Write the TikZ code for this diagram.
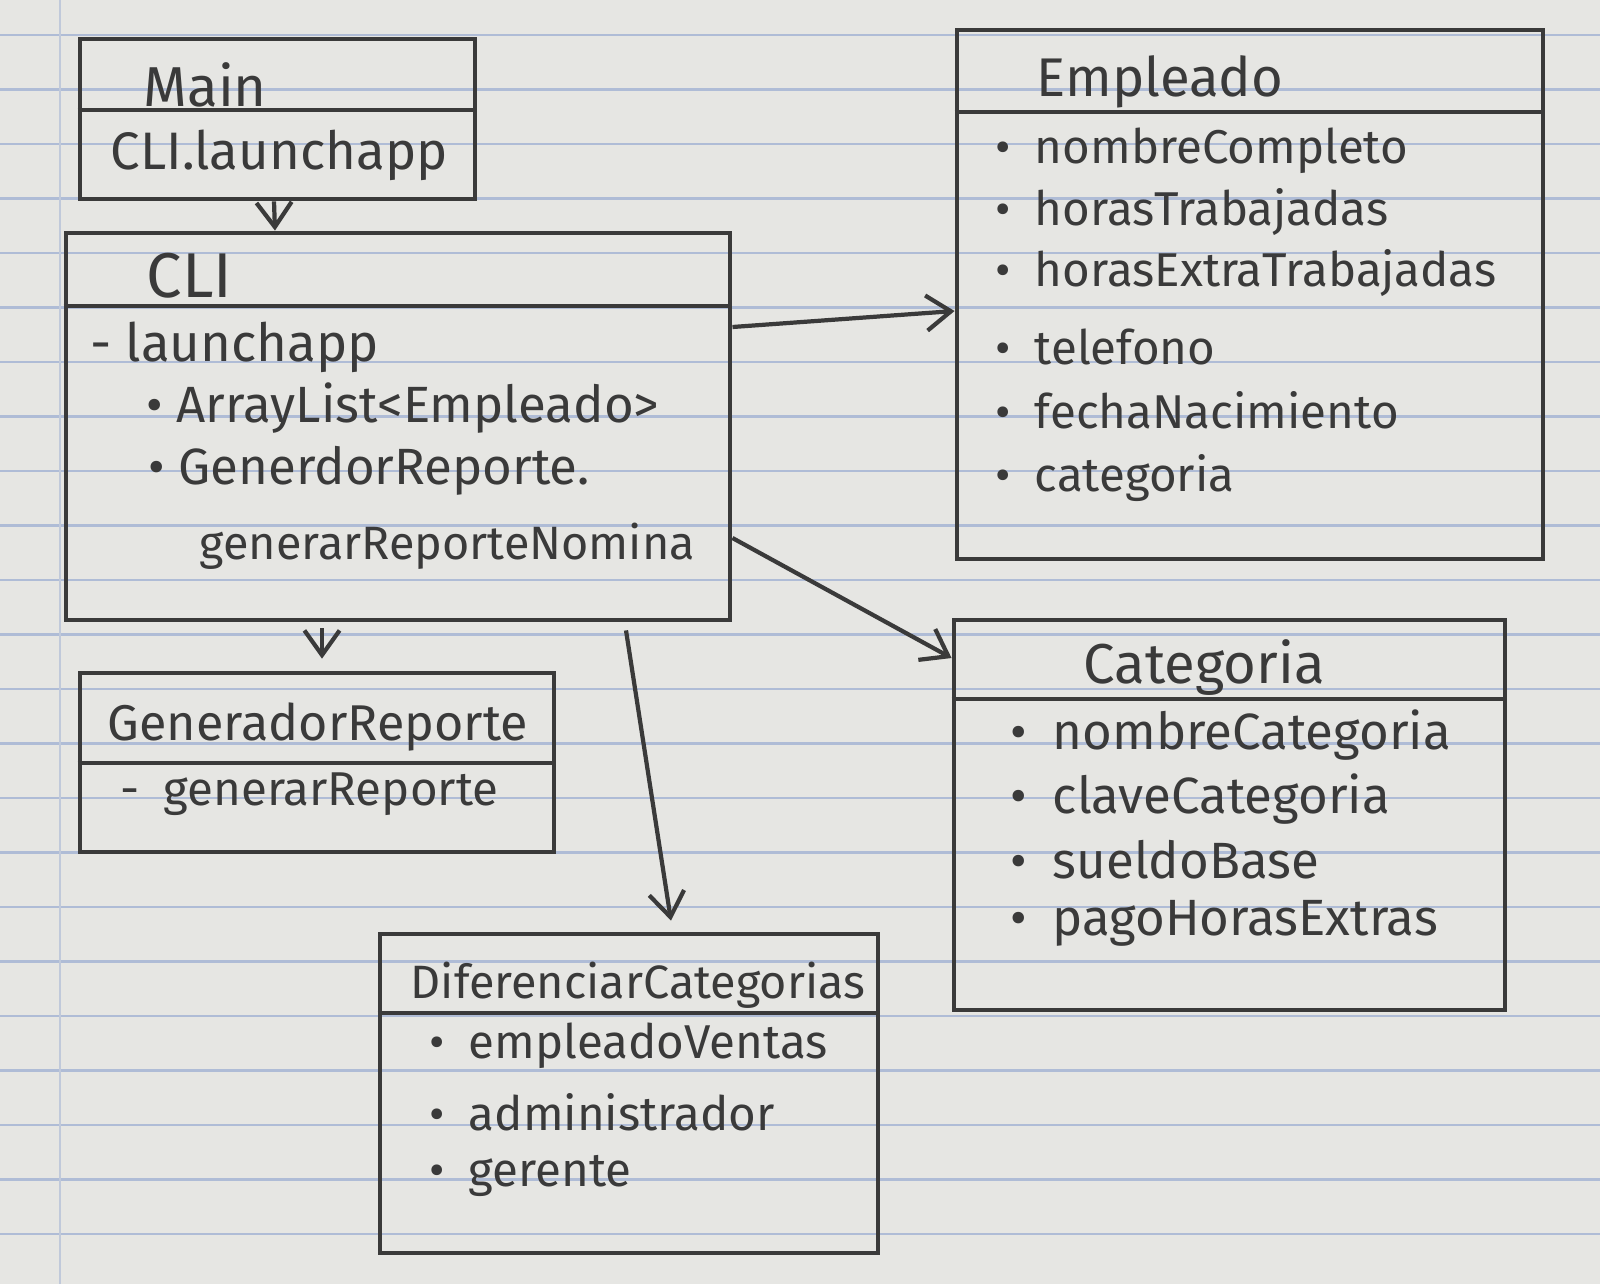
\documentclass[tikz,border=0pt]{standalone}
\usepackage{fontspec}
\setmainfont{Fira Sans}
\usetikzlibrary{arrows.meta}
\definecolor{paper}{HTML}{E6E6E3}
\definecolor{rule}{HTML}{AFBCD6}
\definecolor{pencil}{HTML}{3A3A3A}
\newcommand{\fsz}[1]{\fontsize{#1}{#1}\selectfont}
\tikzset{
  cls/.style={draw=pencil, line width=1.3pt, rectangle, inner sep=0pt},
  divider/.style={draw=pencil, line width=1.2pt},
  title/.style={anchor=west, text=pencil, font=\fsz{16}, inner sep=0pt},
  item/.style={anchor=west, text=pencil, font=\fsz{13.5}, inner sep=0pt},
  conn/.style={draw=pencil, line width=1.2pt, -{Straight Barb[length=7pt,width=10pt,line width=1.2pt]}},
}
\begin{document}
\begin{tikzpicture}[x=0.01cm, y=-0.01cm]
% paper
\fill[paper] (0,0) rectangle (1600,1284);
\useasboundingbox (0,0) rectangle (1600,1284);
\foreach \k in {0,...,22} {
  \draw[rule, line width=0.6pt] (0,35+54.5*\k) -- (1600,35+54.5*\k);
}
\draw[rule!70!paper, line width=0.6pt] (60,0) -- (60,1284);

% boxes
\node[cls, minimum width=3.95cm, minimum height=1.60cm] (main) at (277.5,119) {};
\node[cls, minimum width=6.64cm, minimum height=3.87cm] (cli) at (398,426.5) {};
\node[cls, minimum width=5.86cm, minimum height=5.29cm] (emp) at (1250,294.5) {};
\node[cls, minimum width=5.51cm, minimum height=3.90cm] (cat) at (1229.5,815) {};
\node[cls, minimum width=4.74cm, minimum height=1.79cm] (gen) at (317,762.5) {};
\node[cls, minimum width=4.98cm, minimum height=3.19cm] (dif) at (629,1093.5) {};

% dividers
\draw[divider] (main.west |- 0,110) -- (main.east |- 0,110);
\draw[divider] (cli.west |- 0,306) -- (cli.east |- 0,306);
\draw[divider] (emp.west |- 0,112) -- (emp.east |- 0,112);
\draw[divider] (cat.west |- 0,699) -- (cat.east |- 0,699);
\draw[divider] (gen.west |- 0,763) -- (gen.east |- 0,763);
\draw[divider] (dif.west |- 0,1013) -- (dif.east |- 0,1013);

% Main
\node[title] (mainT) at (143,85) {Main};
\node[item, font=\fsz{15}] (mainM) at (110,155) {CLI.launchapp};

% CLI
\node[title, font=\fsz{18}] (cliT) at (146,276) {CLI};
\node[item, font=\fsz{15}] (cli1) at (90,347) {- launchapp};
\node[item, font=\fsz{14.5}] (cli2) at (146,408) {• ArrayList<Empleado>};
\node[item, font=\fsz{14.5}] (cli3) at (148,471) {• GenerdorReporte.};
\node[item, font=\fsz{13.3}] (cli4) at (199,546) {generarReporteNomina};

% Empleado
\node[title, font=\fsz{15.5}] (empT) at (1036,82) {Empleado};
\node[item] (e1) at (995,151) {•\enspace nombreCompleto};
\node[item] (e2) at (995,212) {•\enspace horasTrabajadas};
\node[item] (e3) at (995,273) {•\enspace horasExtraTrabajadas};
\node[item] (e4) at (995,347) {•\enspace telefono};
\node[item] (e5) at (995,410) {•\enspace fechaNacimiento};
\node[item] (e6) at (995,478) {•\enspace categoria};

% Categoria
\node[title, anchor=center, font=\fsz{16}] (catT) at (1204,668) {Categoria};
\node[item, font=\fsz{14.5}] (c1) at (1010,735) {•\enspace nombreCategoria};
\node[item, font=\fsz{14.5}] (c2) at (1010,799) {•\enspace claveCategoria};
\node[item, font=\fsz{14.5}] (c3) at (1010,860) {•\enspace sueldoBase};
\node[item, font=\fsz{14.5}] (c4) at (1010,923) {•\enspace pagoHorasExtras};

% GeneradorReporte
\node[title, font=\fsz{14.3}] (genT) at (107,727) {GeneradorReporte};
\node[item] (g1) at (120,794) {-\enspace generarReporte};

% DiferenciarCategorias
\node[title, font=\fsz{13.3}] (difT) at (410,985) {DiferenciarCategorias};
\node[item] (d1) at (429,1046) {•\enspace empleadoVentas};
\node[item] (d2) at (429,1112) {•\enspace administrador};
\node[item] (d3) at (429,1176) {•\enspace gerente};

% connectors
\draw[conn] (main.south -| 274,0) -- (cli.north -| 275,0);
\draw[conn] (cli.east |- 0,327) -- (emp.west |- 0,311);
\draw[conn] (cli.east |- 0,538) -- (cat.west |- 0,658);
\draw[conn] (cli.south -| 322,0) ++(0,6) -- ([yshift=0.12cm]gen.north -| 322,0);
\draw[conn] (cli.south -| 626,0) ++(0,8) -- ([yshift=0.11cm]dif.north -| 671,0);
\end{tikzpicture}
\end{document}
